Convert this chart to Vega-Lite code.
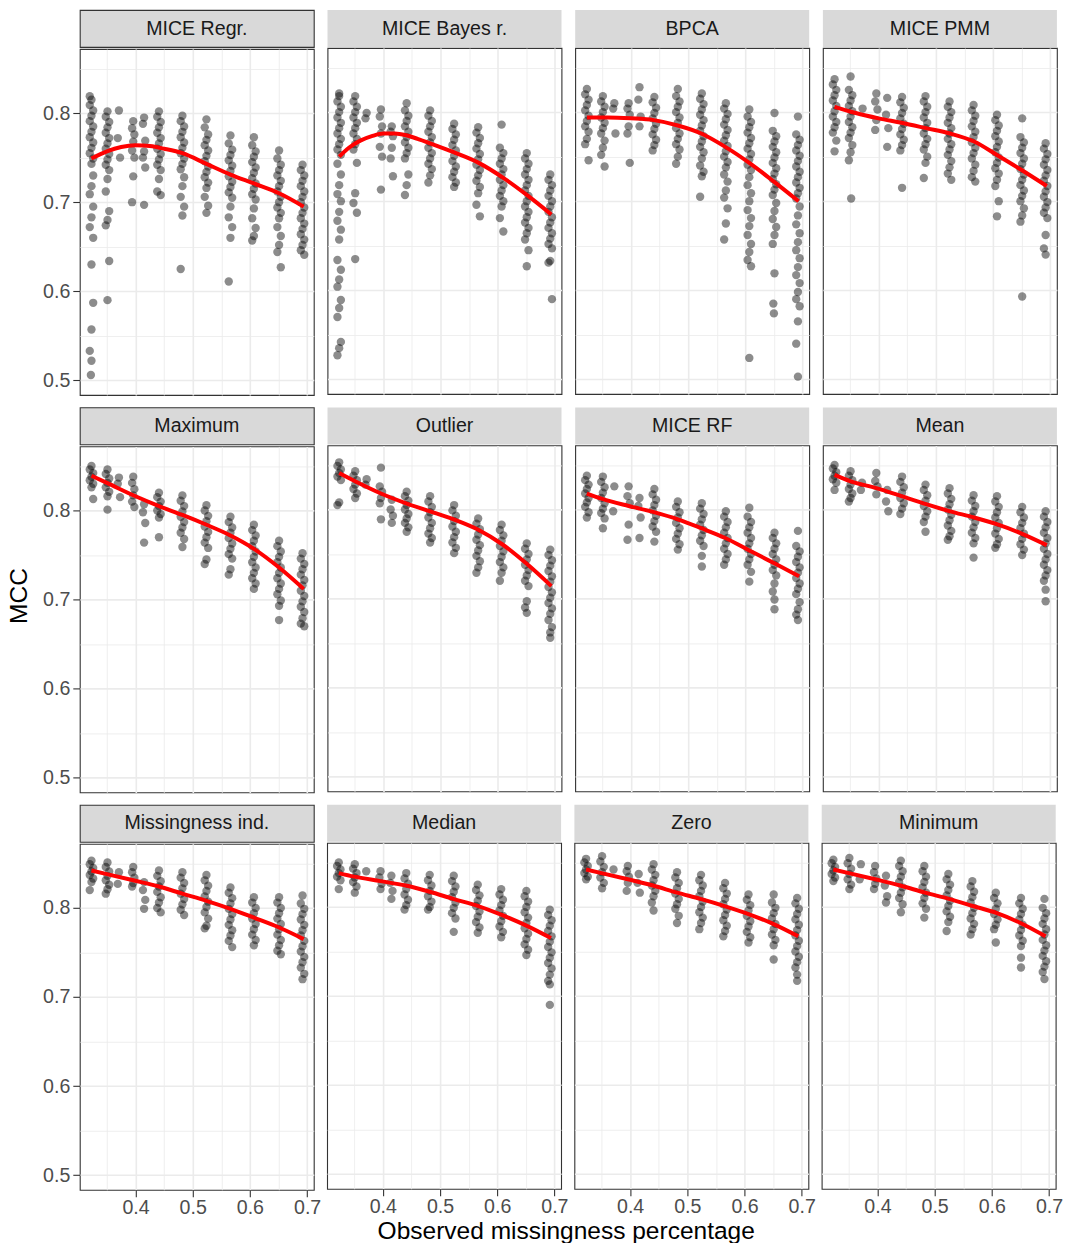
{
"$schema":"https://vega.github.io/schema/vega-lite/v6.json",
"padding":{"left":7,"top":9,"right":2,"bottom":2},
"config":{"font":"Liberation Sans","view":{"stroke":"#333333","strokeWidth":1.1},
"axis":{"domain":false,"gridColor":"#EBEBEB","labelFont":"Liberation Sans","labelFontSize":19.6,"labelColor":"#4D4D4D","tickColor":"#333333","tickSize":7,"tickWidth":1.1,"labelPadding":3,"titleFont":"Liberation Sans","titleFontSize":24.5,"titleFontWeight":"normal","titleColor":"#000000","minExtent":0}},
"datasets":{
"p1":[{"x":0.323,"y":0.815},{"x":0.32,"y":0.809},{"x":0.326,"y":0.803},{"x":0.323,"y":0.797},{"x":0.32,"y":0.791},{"x":0.326,"y":0.785},{"x":0.323,"y":0.779},{"x":0.32,"y":0.773},{"x":0.326,"y":0.767},{"x":0.323,"y":0.761},{"x":0.32,"y":0.755},{"x":0.326,"y":0.749},{"x":0.323,"y":0.743},{"x":0.32,"y":0.819},{"x":0.326,"y":0.73},{"x":0.323,"y":0.718},{"x":0.32,"y":0.709},{"x":0.326,"y":0.695},{"x":0.323,"y":0.683},{"x":0.32,"y":0.672},{"x":0.326,"y":0.66},{"x":0.323,"y":0.63},{"x":0.326,"y":0.587},{"x":0.323,"y":0.557},{"x":0.32,"y":0.533},{"x":0.323,"y":0.522},{"x":0.322,"y":0.506},
{"x":0.351,"y":0.802},{"x":0.348,"y":0.796},{"x":0.354,"y":0.79},{"x":0.351,"y":0.784},{"x":0.348,"y":0.778},{"x":0.354,"y":0.772},{"x":0.351,"y":0.766},{"x":0.348,"y":0.76},{"x":0.354,"y":0.754},{"x":0.351,"y":0.748},{"x":0.348,"y":0.742},{"x":0.354,"y":0.736},{"x":0.351,"y":0.726},{"x":0.348,"y":0.712},{"x":0.354,"y":0.69},{"x":0.351,"y":0.68},{"x":0.348,"y":0.674},{"x":0.354,"y":0.634},{"x":0.351,"y":0.59},
{"x":0.371,"y":0.803},{"x":0.369,"y":0.772},{"x":0.373,"y":0.75},
{"x":0.396,"y":0.791},{"x":0.394,"y":0.783},{"x":0.398,"y":0.776},{"x":0.396,"y":0.768},{"x":0.394,"y":0.758},{"x":0.398,"y":0.75},{"x":0.396,"y":0.729},{"x":0.394,"y":0.7},
{"x":0.415,"y":0.795},{"x":0.413,"y":0.788},{"x":0.417,"y":0.769},{"x":0.415,"y":0.757},{"x":0.413,"y":0.75},{"x":0.417,"y":0.739},{"x":0.415,"y":0.697},
{"x":0.441,"y":0.802},{"x":0.438,"y":0.796},{"x":0.444,"y":0.79},{"x":0.441,"y":0.784},{"x":0.438,"y":0.778},{"x":0.444,"y":0.772},{"x":0.441,"y":0.766},{"x":0.438,"y":0.76},{"x":0.444,"y":0.754},{"x":0.441,"y":0.748},{"x":0.438,"y":0.742},{"x":0.444,"y":0.736},{"x":0.441,"y":0.726},{"x":0.438,"y":0.712},{"x":0.444,"y":0.708},
{"x":0.482,"y":0.797},{"x":0.479,"y":0.791},{"x":0.485,"y":0.785},{"x":0.482,"y":0.779},{"x":0.479,"y":0.773},{"x":0.485,"y":0.767},{"x":0.482,"y":0.761},{"x":0.479,"y":0.755},{"x":0.485,"y":0.749},{"x":0.482,"y":0.743},{"x":0.479,"y":0.737},{"x":0.485,"y":0.728},{"x":0.482,"y":0.718},{"x":0.479,"y":0.706},{"x":0.485,"y":0.695},{"x":0.482,"y":0.685},{"x":0.479,"y":0.625},
{"x":0.524,"y":0.793},{"x":0.521,"y":0.784},{"x":0.527,"y":0.776},{"x":0.524,"y":0.77},{"x":0.521,"y":0.764},{"x":0.527,"y":0.758},{"x":0.524,"y":0.752},{"x":0.521,"y":0.746},{"x":0.527,"y":0.74},{"x":0.524,"y":0.734},{"x":0.521,"y":0.728},{"x":0.527,"y":0.722},{"x":0.524,"y":0.716},{"x":0.521,"y":0.706},{"x":0.527,"y":0.696},{"x":0.524,"y":0.688},
{"x":0.566,"y":0.775},{"x":0.563,"y":0.766},{"x":0.569,"y":0.759},{"x":0.566,"y":0.753},{"x":0.563,"y":0.747},{"x":0.569,"y":0.741},{"x":0.566,"y":0.735},{"x":0.563,"y":0.729},{"x":0.569,"y":0.723},{"x":0.566,"y":0.717},{"x":0.563,"y":0.711},{"x":0.569,"y":0.705},{"x":0.566,"y":0.695},{"x":0.563,"y":0.683},{"x":0.569,"y":0.672},{"x":0.566,"y":0.66},{"x":0.563,"y":0.611},
{"x":0.607,"y":0.773},{"x":0.604,"y":0.764},{"x":0.61,"y":0.757},{"x":0.607,"y":0.751},{"x":0.604,"y":0.745},{"x":0.61,"y":0.739},{"x":0.607,"y":0.733},{"x":0.604,"y":0.727},{"x":0.61,"y":0.721},{"x":0.607,"y":0.715},{"x":0.604,"y":0.709},{"x":0.61,"y":0.703},{"x":0.607,"y":0.693},{"x":0.604,"y":0.682},{"x":0.61,"y":0.671},{"x":0.607,"y":0.662},{"x":0.604,"y":0.657},
{"x":0.651,"y":0.758},{"x":0.648,"y":0.749},{"x":0.654,"y":0.742},{"x":0.651,"y":0.736},{"x":0.648,"y":0.73},{"x":0.654,"y":0.724},{"x":0.651,"y":0.718},{"x":0.648,"y":0.712},{"x":0.654,"y":0.706},{"x":0.651,"y":0.7},{"x":0.648,"y":0.694},{"x":0.654,"y":0.688},{"x":0.651,"y":0.682},{"x":0.648,"y":0.672},{"x":0.654,"y":0.662},{"x":0.651,"y":0.652},{"x":0.648,"y":0.644},{"x":0.654,"y":0.627},
{"x":0.692,"y":0.742},{"x":0.689,"y":0.736},{"x":0.695,"y":0.73},{"x":0.692,"y":0.724},{"x":0.689,"y":0.718},{"x":0.695,"y":0.712},{"x":0.692,"y":0.706},{"x":0.689,"y":0.7},{"x":0.695,"y":0.694},{"x":0.692,"y":0.688},{"x":0.689,"y":0.682},{"x":0.695,"y":0.676},{"x":0.692,"y":0.67},{"x":0.689,"y":0.664},{"x":0.695,"y":0.658},{"x":0.692,"y":0.652},{"x":0.689,"y":0.646},{"x":0.695,"y":0.641}],
"p2":[{"x":0.323,"y":0.818},{"x":0.32,"y":0.812},{"x":0.326,"y":0.806},{"x":0.323,"y":0.8},{"x":0.32,"y":0.794},{"x":0.326,"y":0.788},{"x":0.323,"y":0.782},{"x":0.32,"y":0.776},{"x":0.326,"y":0.77},{"x":0.323,"y":0.764},{"x":0.32,"y":0.758},{"x":0.326,"y":0.752},{"x":0.323,"y":0.821},{"x":0.32,"y":0.742},{"x":0.326,"y":0.73},{"x":0.323,"y":0.718},{"x":0.32,"y":0.708},{"x":0.326,"y":0.7},{"x":0.323,"y":0.688},{"x":0.32,"y":0.678},{"x":0.326,"y":0.668},{"x":0.323,"y":0.657},{"x":0.32,"y":0.634},{"x":0.326,"y":0.623},{"x":0.323,"y":0.612},{"x":0.32,"y":0.604},{"x":0.326,"y":0.589},{"x":0.323,"y":0.58},{"x":0.32,"y":0.57},{"x":0.326,"y":0.542},{"x":0.323,"y":0.535},{"x":0.32,"y":0.527},
{"x":0.351,"y":0.818},{"x":0.348,"y":0.812},{"x":0.354,"y":0.806},{"x":0.351,"y":0.8},{"x":0.348,"y":0.794},{"x":0.354,"y":0.788},{"x":0.351,"y":0.782},{"x":0.348,"y":0.776},{"x":0.354,"y":0.77},{"x":0.351,"y":0.764},{"x":0.348,"y":0.758},{"x":0.354,"y":0.743},{"x":0.351,"y":0.709},{"x":0.348,"y":0.698},{"x":0.354,"y":0.687},{"x":0.351,"y":0.635},
{"x":0.371,"y":0.799},{"x":0.369,"y":0.793},
{"x":0.396,"y":0.803},{"x":0.394,"y":0.795},{"x":0.398,"y":0.784},{"x":0.396,"y":0.776},{"x":0.394,"y":0.761},{"x":0.398,"y":0.75},{"x":0.396,"y":0.713},
{"x":0.415,"y":0.784},{"x":0.413,"y":0.778},{"x":0.417,"y":0.773},{"x":0.415,"y":0.76},{"x":0.413,"y":0.748},{"x":0.417,"y":0.728},
{"x":0.441,"y":0.81},{"x":0.438,"y":0.802},{"x":0.444,"y":0.796},{"x":0.441,"y":0.79},{"x":0.438,"y":0.784},{"x":0.444,"y":0.778},{"x":0.441,"y":0.772},{"x":0.438,"y":0.766},{"x":0.444,"y":0.76},{"x":0.441,"y":0.754},{"x":0.438,"y":0.748},{"x":0.444,"y":0.73},{"x":0.441,"y":0.718},{"x":0.438,"y":0.707},
{"x":0.482,"y":0.802},{"x":0.479,"y":0.796},{"x":0.485,"y":0.79},{"x":0.482,"y":0.784},{"x":0.479,"y":0.778},{"x":0.485,"y":0.772},{"x":0.482,"y":0.766},{"x":0.479,"y":0.76},{"x":0.485,"y":0.754},{"x":0.482,"y":0.748},{"x":0.479,"y":0.742},{"x":0.485,"y":0.736},{"x":0.482,"y":0.729},{"x":0.479,"y":0.721},
{"x":0.524,"y":0.787},{"x":0.521,"y":0.781},{"x":0.527,"y":0.775},{"x":0.524,"y":0.769},{"x":0.521,"y":0.763},{"x":0.527,"y":0.757},{"x":0.524,"y":0.751},{"x":0.521,"y":0.745},{"x":0.527,"y":0.739},{"x":0.524,"y":0.733},{"x":0.521,"y":0.727},{"x":0.527,"y":0.721},{"x":0.524,"y":0.716},
{"x":0.566,"y":0.783},{"x":0.563,"y":0.777},{"x":0.569,"y":0.771},{"x":0.566,"y":0.765},{"x":0.563,"y":0.759},{"x":0.569,"y":0.753},{"x":0.566,"y":0.747},{"x":0.563,"y":0.741},{"x":0.569,"y":0.735},{"x":0.566,"y":0.729},{"x":0.563,"y":0.723},{"x":0.569,"y":0.716},{"x":0.566,"y":0.709},{"x":0.563,"y":0.696},{"x":0.569,"y":0.683},
{"x":0.607,"y":0.786},{"x":0.604,"y":0.76},{"x":0.61,"y":0.754},{"x":0.607,"y":0.748},{"x":0.604,"y":0.742},{"x":0.61,"y":0.736},{"x":0.607,"y":0.73},{"x":0.604,"y":0.724},{"x":0.61,"y":0.718},{"x":0.607,"y":0.712},{"x":0.604,"y":0.706},{"x":0.61,"y":0.7},{"x":0.607,"y":0.694},{"x":0.604,"y":0.681},{"x":0.61,"y":0.666},
{"x":0.651,"y":0.754},{"x":0.648,"y":0.748},{"x":0.654,"y":0.742},{"x":0.651,"y":0.736},{"x":0.648,"y":0.73},{"x":0.654,"y":0.724},{"x":0.651,"y":0.718},{"x":0.648,"y":0.712},{"x":0.654,"y":0.706},{"x":0.651,"y":0.7},{"x":0.648,"y":0.694},{"x":0.654,"y":0.688},{"x":0.651,"y":0.682},{"x":0.648,"y":0.676},{"x":0.654,"y":0.67},{"x":0.651,"y":0.664},{"x":0.648,"y":0.657},{"x":0.654,"y":0.645},{"x":0.651,"y":0.627},
{"x":0.692,"y":0.73},{"x":0.689,"y":0.724},{"x":0.695,"y":0.718},{"x":0.692,"y":0.712},{"x":0.689,"y":0.706},{"x":0.695,"y":0.7},{"x":0.692,"y":0.694},{"x":0.689,"y":0.688},{"x":0.695,"y":0.682},{"x":0.692,"y":0.676},{"x":0.689,"y":0.67},{"x":0.695,"y":0.664},{"x":0.692,"y":0.658},{"x":0.689,"y":0.652},{"x":0.695,"y":0.647},{"x":0.692,"y":0.633},{"x":0.689,"y":0.631},{"x":0.695,"y":0.59}],
"p3":[{"x":0.323,"y":0.826},{"x":0.32,"y":0.82},{"x":0.326,"y":0.814},{"x":0.323,"y":0.808},{"x":0.32,"y":0.802},{"x":0.326,"y":0.796},{"x":0.323,"y":0.79},{"x":0.32,"y":0.784},{"x":0.326,"y":0.778},{"x":0.323,"y":0.77},{"x":0.32,"y":0.764},{"x":0.326,"y":0.746},
{"x":0.351,"y":0.818},{"x":0.348,"y":0.812},{"x":0.354,"y":0.806},{"x":0.351,"y":0.8},{"x":0.348,"y":0.794},{"x":0.354,"y":0.788},{"x":0.351,"y":0.782},{"x":0.348,"y":0.776},{"x":0.354,"y":0.768},{"x":0.351,"y":0.76},{"x":0.348,"y":0.752},{"x":0.354,"y":0.739},
{"x":0.371,"y":0.81},{"x":0.369,"y":0.804},{"x":0.373,"y":0.776},
{"x":0.396,"y":0.81},{"x":0.394,"y":0.804},{"x":0.398,"y":0.797},{"x":0.396,"y":0.784},{"x":0.394,"y":0.776},{"x":0.398,"y":0.743},
{"x":0.415,"y":0.828},{"x":0.413,"y":0.814},{"x":0.417,"y":0.795},{"x":0.415,"y":0.784},
{"x":0.441,"y":0.817},{"x":0.438,"y":0.811},{"x":0.444,"y":0.805},{"x":0.441,"y":0.799},{"x":0.438,"y":0.793},{"x":0.444,"y":0.787},{"x":0.441,"y":0.781},{"x":0.438,"y":0.775},{"x":0.444,"y":0.769},{"x":0.441,"y":0.763},{"x":0.438,"y":0.757},
{"x":0.482,"y":0.826},{"x":0.479,"y":0.818},{"x":0.485,"y":0.812},{"x":0.482,"y":0.806},{"x":0.479,"y":0.8},{"x":0.485,"y":0.794},{"x":0.482,"y":0.788},{"x":0.479,"y":0.782},{"x":0.485,"y":0.776},{"x":0.482,"y":0.77},{"x":0.479,"y":0.764},{"x":0.485,"y":0.758},{"x":0.482,"y":0.75},{"x":0.479,"y":0.742},
{"x":0.524,"y":0.821},{"x":0.521,"y":0.815},{"x":0.527,"y":0.809},{"x":0.524,"y":0.803},{"x":0.521,"y":0.797},{"x":0.527,"y":0.791},{"x":0.524,"y":0.785},{"x":0.521,"y":0.779},{"x":0.527,"y":0.773},{"x":0.524,"y":0.767},{"x":0.521,"y":0.761},{"x":0.527,"y":0.755},{"x":0.524,"y":0.748},{"x":0.521,"y":0.74},{"x":0.527,"y":0.733},{"x":0.524,"y":0.728},{"x":0.521,"y":0.705},
{"x":0.566,"y":0.81},{"x":0.563,"y":0.804},{"x":0.569,"y":0.798},{"x":0.566,"y":0.792},{"x":0.563,"y":0.786},{"x":0.569,"y":0.78},{"x":0.566,"y":0.774},{"x":0.563,"y":0.768},{"x":0.569,"y":0.762},{"x":0.566,"y":0.756},{"x":0.563,"y":0.75},{"x":0.569,"y":0.744},{"x":0.566,"y":0.738},{"x":0.563,"y":0.73},{"x":0.569,"y":0.722},{"x":0.566,"y":0.712},{"x":0.563,"y":0.704},{"x":0.569,"y":0.692},{"x":0.566,"y":0.675},{"x":0.563,"y":0.657},
{"x":0.607,"y":0.803},{"x":0.604,"y":0.795},{"x":0.61,"y":0.789},{"x":0.607,"y":0.783},{"x":0.604,"y":0.777},{"x":0.61,"y":0.771},{"x":0.607,"y":0.765},{"x":0.604,"y":0.759},{"x":0.61,"y":0.753},{"x":0.607,"y":0.747},{"x":0.604,"y":0.741},{"x":0.61,"y":0.735},{"x":0.607,"y":0.727},{"x":0.604,"y":0.718},{"x":0.61,"y":0.709},{"x":0.607,"y":0.7},{"x":0.604,"y":0.69},{"x":0.61,"y":0.681},{"x":0.607,"y":0.672},{"x":0.604,"y":0.662},{"x":0.61,"y":0.652},{"x":0.607,"y":0.643},{"x":0.604,"y":0.634},{"x":0.61,"y":0.627},{"x":0.607,"y":0.524},
{"x":0.651,"y":0.799},{"x":0.648,"y":0.779},{"x":0.654,"y":0.773},{"x":0.651,"y":0.767},{"x":0.648,"y":0.761},{"x":0.654,"y":0.755},{"x":0.651,"y":0.749},{"x":0.648,"y":0.743},{"x":0.654,"y":0.737},{"x":0.651,"y":0.731},{"x":0.648,"y":0.725},{"x":0.654,"y":0.719},{"x":0.651,"y":0.713},{"x":0.648,"y":0.707},{"x":0.654,"y":0.698},{"x":0.651,"y":0.689},{"x":0.648,"y":0.68},{"x":0.654,"y":0.671},{"x":0.651,"y":0.662},{"x":0.648,"y":0.652},{"x":0.651,"y":0.619},{"x":0.649,"y":0.585},{"x":0.65,"y":0.574},
{"x":0.692,"y":0.795},{"x":0.689,"y":0.775},{"x":0.695,"y":0.769},{"x":0.692,"y":0.763},{"x":0.689,"y":0.757},{"x":0.695,"y":0.751},{"x":0.692,"y":0.745},{"x":0.689,"y":0.739},{"x":0.695,"y":0.733},{"x":0.692,"y":0.727},{"x":0.689,"y":0.721},{"x":0.695,"y":0.715},{"x":0.692,"y":0.709},{"x":0.689,"y":0.703},{"x":0.695,"y":0.694},{"x":0.692,"y":0.684},{"x":0.689,"y":0.674},{"x":0.695,"y":0.664},{"x":0.692,"y":0.654},{"x":0.689,"y":0.645},{"x":0.695,"y":0.636},{"x":0.692,"y":0.626},{"x":0.689,"y":0.617},{"x":0.695,"y":0.608},{"x":0.692,"y":0.598},{"x":0.689,"y":0.59},{"x":0.695,"y":0.582},{"x":0.692,"y":0.565},{"x":0.689,"y":0.54},{"x":0.692,"y":0.503}],
"p4":[{"x":0.323,"y":0.837},{"x":0.32,"y":0.831},{"x":0.326,"y":0.825},{"x":0.323,"y":0.819},{"x":0.32,"y":0.813},{"x":0.326,"y":0.807},{"x":0.323,"y":0.801},{"x":0.32,"y":0.795},{"x":0.326,"y":0.789},{"x":0.323,"y":0.783},{"x":0.32,"y":0.777},{"x":0.326,"y":0.768},{"x":0.323,"y":0.756},
{"x":0.351,"y":0.84},{"x":0.348,"y":0.825},{"x":0.354,"y":0.819},{"x":0.351,"y":0.813},{"x":0.348,"y":0.807},{"x":0.354,"y":0.801},{"x":0.351,"y":0.795},{"x":0.348,"y":0.789},{"x":0.354,"y":0.783},{"x":0.351,"y":0.777},{"x":0.348,"y":0.771},{"x":0.354,"y":0.763},{"x":0.351,"y":0.755},{"x":0.348,"y":0.746},{"x":0.352,"y":0.703},
{"x":0.372,"y":0.804},
{"x":0.396,"y":0.821},{"x":0.394,"y":0.812},{"x":0.398,"y":0.803},{"x":0.396,"y":0.791},{"x":0.394,"y":0.78},
{"x":0.415,"y":0.816},{"x":0.413,"y":0.797},{"x":0.417,"y":0.782},{"x":0.415,"y":0.761},
{"x":0.441,"y":0.817},{"x":0.438,"y":0.811},{"x":0.444,"y":0.805},{"x":0.441,"y":0.799},{"x":0.438,"y":0.793},{"x":0.444,"y":0.787},{"x":0.441,"y":0.781},{"x":0.438,"y":0.775},{"x":0.444,"y":0.769},{"x":0.441,"y":0.763},{"x":0.438,"y":0.757},{"x":0.441,"y":0.715},
{"x":0.482,"y":0.818},{"x":0.479,"y":0.812},{"x":0.485,"y":0.806},{"x":0.482,"y":0.8},{"x":0.479,"y":0.794},{"x":0.485,"y":0.788},{"x":0.482,"y":0.782},{"x":0.479,"y":0.776},{"x":0.485,"y":0.77},{"x":0.482,"y":0.764},{"x":0.479,"y":0.758},{"x":0.485,"y":0.75},{"x":0.482,"y":0.743},{"x":0.479,"y":0.726},
{"x":0.524,"y":0.812},{"x":0.521,"y":0.806},{"x":0.527,"y":0.8},{"x":0.524,"y":0.794},{"x":0.521,"y":0.788},{"x":0.527,"y":0.782},{"x":0.524,"y":0.776},{"x":0.521,"y":0.77},{"x":0.527,"y":0.764},{"x":0.524,"y":0.758},{"x":0.521,"y":0.752},{"x":0.527,"y":0.745},{"x":0.524,"y":0.738},{"x":0.521,"y":0.731},{"x":0.527,"y":0.724},
{"x":0.566,"y":0.808},{"x":0.563,"y":0.802},{"x":0.569,"y":0.796},{"x":0.566,"y":0.79},{"x":0.563,"y":0.784},{"x":0.569,"y":0.778},{"x":0.566,"y":0.772},{"x":0.563,"y":0.766},{"x":0.569,"y":0.76},{"x":0.566,"y":0.754},{"x":0.563,"y":0.748},{"x":0.569,"y":0.741},{"x":0.566,"y":0.734},{"x":0.563,"y":0.727},{"x":0.569,"y":0.722},
{"x":0.607,"y":0.797},{"x":0.604,"y":0.791},{"x":0.61,"y":0.785},{"x":0.607,"y":0.779},{"x":0.604,"y":0.773},{"x":0.61,"y":0.767},{"x":0.607,"y":0.761},{"x":0.604,"y":0.755},{"x":0.61,"y":0.749},{"x":0.607,"y":0.743},{"x":0.604,"y":0.737},{"x":0.61,"y":0.731},{"x":0.607,"y":0.724},{"x":0.604,"y":0.717},{"x":0.61,"y":0.7},{"x":0.607,"y":0.683},
{"x":0.651,"y":0.793},{"x":0.648,"y":0.772},{"x":0.654,"y":0.766},{"x":0.651,"y":0.76},{"x":0.648,"y":0.754},{"x":0.654,"y":0.748},{"x":0.651,"y":0.742},{"x":0.648,"y":0.736},{"x":0.654,"y":0.73},{"x":0.651,"y":0.724},{"x":0.648,"y":0.718},{"x":0.654,"y":0.712},{"x":0.651,"y":0.706},{"x":0.648,"y":0.7},{"x":0.654,"y":0.692},{"x":0.651,"y":0.684},{"x":0.648,"y":0.677},{"x":0.651,"y":0.593},
{"x":0.692,"y":0.765},{"x":0.689,"y":0.759},{"x":0.695,"y":0.753},{"x":0.692,"y":0.747},{"x":0.689,"y":0.741},{"x":0.695,"y":0.735},{"x":0.692,"y":0.729},{"x":0.689,"y":0.723},{"x":0.695,"y":0.717},{"x":0.692,"y":0.711},{"x":0.689,"y":0.705},{"x":0.695,"y":0.699},{"x":0.692,"y":0.693},{"x":0.689,"y":0.687},{"x":0.695,"y":0.681},{"x":0.692,"y":0.662},{"x":0.689,"y":0.647},{"x":0.692,"y":0.64}],
"p5":[{"x":0.323,"y":0.85},{"x":0.32,"y":0.846},{"x":0.326,"y":0.842},{"x":0.323,"y":0.838},{"x":0.32,"y":0.834},{"x":0.326,"y":0.83},{"x":0.323,"y":0.826},{"x":0.326,"y":0.813},
{"x":0.351,"y":0.846},{"x":0.348,"y":0.841},{"x":0.354,"y":0.836},{"x":0.351,"y":0.831},{"x":0.348,"y":0.826},{"x":0.354,"y":0.821},{"x":0.351,"y":0.816},{"x":0.351,"y":0.801},
{"x":0.371,"y":0.837},{"x":0.369,"y":0.83},{"x":0.373,"y":0.815},
{"x":0.396,"y":0.838},{"x":0.394,"y":0.831},{"x":0.398,"y":0.824},{"x":0.396,"y":0.817},{"x":0.394,"y":0.81},{"x":0.398,"y":0.804},
{"x":0.415,"y":0.807},{"x":0.413,"y":0.798},{"x":0.417,"y":0.786},{"x":0.415,"y":0.764},
{"x":0.441,"y":0.82},{"x":0.438,"y":0.815},{"x":0.444,"y":0.81},{"x":0.441,"y":0.805},{"x":0.438,"y":0.8},{"x":0.444,"y":0.796},{"x":0.441,"y":0.792},{"x":0.441,"y":0.77},
{"x":0.482,"y":0.817},{"x":0.479,"y":0.811},{"x":0.485,"y":0.805},{"x":0.482,"y":0.799},{"x":0.479,"y":0.793},{"x":0.485,"y":0.787},{"x":0.482,"y":0.781},{"x":0.479,"y":0.775},{"x":0.485,"y":0.768},{"x":0.482,"y":0.759},
{"x":0.524,"y":0.806},{"x":0.521,"y":0.8},{"x":0.527,"y":0.794},{"x":0.524,"y":0.788},{"x":0.521,"y":0.782},{"x":0.527,"y":0.776},{"x":0.524,"y":0.77},{"x":0.521,"y":0.764},{"x":0.527,"y":0.758},{"x":0.524,"y":0.745},{"x":0.521,"y":0.74},
{"x":0.566,"y":0.793},{"x":0.563,"y":0.787},{"x":0.569,"y":0.781},{"x":0.566,"y":0.775},{"x":0.563,"y":0.769},{"x":0.569,"y":0.763},{"x":0.566,"y":0.757},{"x":0.563,"y":0.751},{"x":0.569,"y":0.746},{"x":0.566,"y":0.734},{"x":0.563,"y":0.728},
{"x":0.607,"y":0.784},{"x":0.604,"y":0.778},{"x":0.61,"y":0.772},{"x":0.607,"y":0.766},{"x":0.604,"y":0.76},{"x":0.61,"y":0.754},{"x":0.607,"y":0.748},{"x":0.604,"y":0.742},{"x":0.61,"y":0.736},{"x":0.607,"y":0.73},{"x":0.604,"y":0.724},{"x":0.61,"y":0.718},{"x":0.607,"y":0.712},
{"x":0.651,"y":0.766},{"x":0.648,"y":0.76},{"x":0.654,"y":0.754},{"x":0.651,"y":0.748},{"x":0.648,"y":0.742},{"x":0.654,"y":0.736},{"x":0.651,"y":0.73},{"x":0.648,"y":0.724},{"x":0.654,"y":0.718},{"x":0.651,"y":0.712},{"x":0.648,"y":0.706},{"x":0.654,"y":0.699},{"x":0.651,"y":0.693},{"x":0.651,"y":0.677},
{"x":0.692,"y":0.752},{"x":0.689,"y":0.746},{"x":0.695,"y":0.74},{"x":0.692,"y":0.734},{"x":0.689,"y":0.728},{"x":0.695,"y":0.722},{"x":0.692,"y":0.716},{"x":0.689,"y":0.71},{"x":0.695,"y":0.704},{"x":0.692,"y":0.698},{"x":0.689,"y":0.692},{"x":0.695,"y":0.686},{"x":0.692,"y":0.679},{"x":0.689,"y":0.673},{"x":0.695,"y":0.67}],
"p6":[{"x":0.323,"y":0.853},{"x":0.32,"y":0.849},{"x":0.326,"y":0.845},{"x":0.323,"y":0.841},{"x":0.32,"y":0.837},{"x":0.326,"y":0.833},{"x":0.323,"y":0.808},{"x":0.32,"y":0.805},
{"x":0.351,"y":0.843},{"x":0.348,"y":0.838},{"x":0.354,"y":0.833},{"x":0.351,"y":0.828},{"x":0.348,"y":0.823},{"x":0.354,"y":0.818},{"x":0.351,"y":0.813},
{"x":0.371,"y":0.834},{"x":0.369,"y":0.828},
{"x":0.396,"y":0.847},{"x":0.394,"y":0.826},{"x":0.398,"y":0.82},{"x":0.396,"y":0.813},{"x":0.394,"y":0.807},{"x":0.396,"y":0.789},
{"x":0.415,"y":0.811},{"x":0.413,"y":0.8},{"x":0.417,"y":0.793},{"x":0.415,"y":0.785},
{"x":0.441,"y":0.82},{"x":0.438,"y":0.815},{"x":0.444,"y":0.81},{"x":0.441,"y":0.805},{"x":0.438,"y":0.8},{"x":0.444,"y":0.795},{"x":0.441,"y":0.79},{"x":0.438,"y":0.785},{"x":0.444,"y":0.78},{"x":0.441,"y":0.775},
{"x":0.482,"y":0.815},{"x":0.479,"y":0.809},{"x":0.485,"y":0.803},{"x":0.482,"y":0.797},{"x":0.479,"y":0.791},{"x":0.485,"y":0.785},{"x":0.482,"y":0.779},{"x":0.479,"y":0.773},{"x":0.485,"y":0.768},{"x":0.482,"y":0.763},
{"x":0.524,"y":0.805},{"x":0.521,"y":0.799},{"x":0.527,"y":0.793},{"x":0.524,"y":0.787},{"x":0.521,"y":0.781},{"x":0.527,"y":0.775},{"x":0.524,"y":0.769},{"x":0.521,"y":0.763},{"x":0.527,"y":0.757},{"x":0.524,"y":0.751},
{"x":0.566,"y":0.79},{"x":0.563,"y":0.784},{"x":0.569,"y":0.778},{"x":0.566,"y":0.772},{"x":0.563,"y":0.766},{"x":0.569,"y":0.76},{"x":0.566,"y":0.754},{"x":0.563,"y":0.748},{"x":0.569,"y":0.742},{"x":0.566,"y":0.735},{"x":0.563,"y":0.729},
{"x":0.607,"y":0.783},{"x":0.604,"y":0.777},{"x":0.61,"y":0.771},{"x":0.607,"y":0.765},{"x":0.604,"y":0.759},{"x":0.61,"y":0.753},{"x":0.607,"y":0.747},{"x":0.604,"y":0.741},{"x":0.61,"y":0.735},{"x":0.607,"y":0.729},{"x":0.604,"y":0.72},
{"x":0.651,"y":0.762},{"x":0.648,"y":0.756},{"x":0.654,"y":0.75},{"x":0.651,"y":0.744},{"x":0.648,"y":0.738},{"x":0.654,"y":0.732},{"x":0.651,"y":0.726},{"x":0.648,"y":0.72},{"x":0.654,"y":0.714},{"x":0.651,"y":0.697},{"x":0.648,"y":0.69},{"x":0.651,"y":0.684},
{"x":0.692,"y":0.755},{"x":0.689,"y":0.749},{"x":0.695,"y":0.743},{"x":0.692,"y":0.737},{"x":0.689,"y":0.731},{"x":0.695,"y":0.725},{"x":0.692,"y":0.719},{"x":0.689,"y":0.713},{"x":0.695,"y":0.707},{"x":0.692,"y":0.701},{"x":0.689,"y":0.695},{"x":0.695,"y":0.689},{"x":0.692,"y":0.683},{"x":0.689,"y":0.676},{"x":0.695,"y":0.668},{"x":0.692,"y":0.662},{"x":0.692,"y":0.656}],
"p7":[{"x":0.323,"y":0.838},{"x":0.32,"y":0.833},{"x":0.326,"y":0.828},{"x":0.323,"y":0.823},{"x":0.32,"y":0.818},{"x":0.326,"y":0.813},{"x":0.323,"y":0.808},{"x":0.32,"y":0.803},{"x":0.326,"y":0.797},{"x":0.323,"y":0.791},
{"x":0.351,"y":0.837},{"x":0.348,"y":0.831},{"x":0.354,"y":0.825},{"x":0.351,"y":0.819},{"x":0.348,"y":0.813},{"x":0.354,"y":0.807},{"x":0.351,"y":0.801},{"x":0.348,"y":0.796},{"x":0.354,"y":0.79},{"x":0.351,"y":0.779},
{"x":0.371,"y":0.826},{"x":0.369,"y":0.798},
{"x":0.396,"y":0.826},{"x":0.394,"y":0.815},{"x":0.398,"y":0.807},{"x":0.396,"y":0.783},{"x":0.394,"y":0.766},
{"x":0.415,"y":0.813},{"x":0.413,"y":0.804},{"x":0.417,"y":0.791},{"x":0.415,"y":0.768},
{"x":0.441,"y":0.823},{"x":0.438,"y":0.817},{"x":0.444,"y":0.811},{"x":0.441,"y":0.805},{"x":0.438,"y":0.799},{"x":0.444,"y":0.793},{"x":0.441,"y":0.787},{"x":0.438,"y":0.781},{"x":0.444,"y":0.775},{"x":0.441,"y":0.764},
{"x":0.482,"y":0.809},{"x":0.479,"y":0.803},{"x":0.485,"y":0.797},{"x":0.482,"y":0.791},{"x":0.479,"y":0.785},{"x":0.485,"y":0.779},{"x":0.482,"y":0.773},{"x":0.479,"y":0.767},{"x":0.485,"y":0.761},{"x":0.482,"y":0.755},
{"x":0.524,"y":0.807},{"x":0.521,"y":0.801},{"x":0.527,"y":0.795},{"x":0.524,"y":0.789},{"x":0.521,"y":0.783},{"x":0.527,"y":0.777},{"x":0.524,"y":0.771},{"x":0.521,"y":0.765},{"x":0.527,"y":0.759},{"x":0.524,"y":0.748},{"x":0.524,"y":0.736},
{"x":0.566,"y":0.798},{"x":0.563,"y":0.792},{"x":0.569,"y":0.786},{"x":0.566,"y":0.78},{"x":0.563,"y":0.774},{"x":0.569,"y":0.768},{"x":0.566,"y":0.762},{"x":0.563,"y":0.756},{"x":0.569,"y":0.75},{"x":0.566,"y":0.744},{"x":0.563,"y":0.738},
{"x":0.607,"y":0.802},{"x":0.604,"y":0.792},{"x":0.61,"y":0.786},{"x":0.607,"y":0.78},{"x":0.604,"y":0.774},{"x":0.61,"y":0.768},{"x":0.607,"y":0.762},{"x":0.604,"y":0.756},{"x":0.61,"y":0.75},{"x":0.607,"y":0.744},{"x":0.604,"y":0.738},{"x":0.61,"y":0.73},{"x":0.607,"y":0.719},
{"x":0.651,"y":0.774},{"x":0.648,"y":0.768},{"x":0.654,"y":0.762},{"x":0.651,"y":0.756},{"x":0.648,"y":0.75},{"x":0.654,"y":0.744},{"x":0.651,"y":0.738},{"x":0.648,"y":0.732},{"x":0.654,"y":0.726},{"x":0.651,"y":0.717},{"x":0.648,"y":0.708},{"x":0.651,"y":0.699},{"x":0.651,"y":0.688},
{"x":0.692,"y":0.776},{"x":0.689,"y":0.759},{"x":0.695,"y":0.753},{"x":0.692,"y":0.747},{"x":0.689,"y":0.741},{"x":0.695,"y":0.735},{"x":0.692,"y":0.729},{"x":0.689,"y":0.723},{"x":0.695,"y":0.717},{"x":0.692,"y":0.711},{"x":0.689,"y":0.705},{"x":0.695,"y":0.696},{"x":0.692,"y":0.688},{"x":0.689,"y":0.682},{"x":0.692,"y":0.676}],
"p8":[{"x":0.323,"y":0.85},{"x":0.32,"y":0.846},{"x":0.326,"y":0.842},{"x":0.323,"y":0.838},{"x":0.32,"y":0.834},{"x":0.326,"y":0.83},{"x":0.323,"y":0.822},
{"x":0.351,"y":0.843},{"x":0.348,"y":0.838},{"x":0.354,"y":0.833},{"x":0.351,"y":0.828},{"x":0.348,"y":0.823},{"x":0.354,"y":0.818},{"x":0.351,"y":0.813},{"x":0.348,"y":0.809},
{"x":0.371,"y":0.83},{"x":0.369,"y":0.822},
{"x":0.396,"y":0.841},{"x":0.394,"y":0.832},{"x":0.398,"y":0.826},{"x":0.396,"y":0.817},
{"x":0.415,"y":0.822},{"x":0.413,"y":0.809},{"x":0.417,"y":0.798},
{"x":0.441,"y":0.837},{"x":0.438,"y":0.831},{"x":0.444,"y":0.825},{"x":0.441,"y":0.819},{"x":0.438,"y":0.813},{"x":0.444,"y":0.807},{"x":0.441,"y":0.801},{"x":0.438,"y":0.795},
{"x":0.482,"y":0.828},{"x":0.479,"y":0.822},{"x":0.485,"y":0.816},{"x":0.482,"y":0.81},{"x":0.479,"y":0.804},{"x":0.485,"y":0.798},{"x":0.482,"y":0.792},{"x":0.479,"y":0.786},{"x":0.482,"y":0.775},
{"x":0.524,"y":0.824},{"x":0.521,"y":0.818},{"x":0.527,"y":0.812},{"x":0.524,"y":0.806},{"x":0.521,"y":0.8},{"x":0.527,"y":0.794},{"x":0.524,"y":0.788},{"x":0.521,"y":0.782},{"x":0.527,"y":0.776},{"x":0.524,"y":0.77},{"x":0.521,"y":0.766},
{"x":0.566,"y":0.816},{"x":0.563,"y":0.81},{"x":0.569,"y":0.804},{"x":0.566,"y":0.798},{"x":0.563,"y":0.792},{"x":0.569,"y":0.786},{"x":0.566,"y":0.78},{"x":0.563,"y":0.774},{"x":0.569,"y":0.768},{"x":0.566,"y":0.762},{"x":0.566,"y":0.746},
{"x":0.607,"y":0.815},{"x":0.604,"y":0.809},{"x":0.61,"y":0.803},{"x":0.607,"y":0.797},{"x":0.604,"y":0.791},{"x":0.61,"y":0.785},{"x":0.607,"y":0.779},{"x":0.604,"y":0.773},{"x":0.61,"y":0.767},{"x":0.607,"y":0.761},{"x":0.604,"y":0.757},
{"x":0.651,"y":0.803},{"x":0.648,"y":0.797},{"x":0.654,"y":0.791},{"x":0.651,"y":0.785},{"x":0.648,"y":0.779},{"x":0.654,"y":0.773},{"x":0.651,"y":0.767},{"x":0.648,"y":0.761},{"x":0.654,"y":0.755},{"x":0.651,"y":0.749},
{"x":0.692,"y":0.798},{"x":0.689,"y":0.792},{"x":0.695,"y":0.786},{"x":0.692,"y":0.78},{"x":0.689,"y":0.774},{"x":0.695,"y":0.768},{"x":0.692,"y":0.762},{"x":0.689,"y":0.756},{"x":0.695,"y":0.75},{"x":0.692,"y":0.744},{"x":0.689,"y":0.738},{"x":0.695,"y":0.732},{"x":0.692,"y":0.726},{"x":0.689,"y":0.72},{"x":0.692,"y":0.71},{"x":0.692,"y":0.697}],
"p9":[{"x":0.323,"y":0.853},{"x":0.32,"y":0.849},{"x":0.326,"y":0.845},{"x":0.323,"y":0.841},{"x":0.32,"y":0.837},{"x":0.326,"y":0.833},{"x":0.323,"y":0.829},{"x":0.32,"y":0.82},
{"x":0.351,"y":0.851},{"x":0.348,"y":0.846},{"x":0.354,"y":0.841},{"x":0.351,"y":0.836},{"x":0.348,"y":0.831},{"x":0.354,"y":0.826},{"x":0.351,"y":0.821},{"x":0.348,"y":0.816},
{"x":0.371,"y":0.84},{"x":0.369,"y":0.827},
{"x":0.396,"y":0.846},{"x":0.394,"y":0.84},{"x":0.398,"y":0.834},{"x":0.396,"y":0.828},{"x":0.394,"y":0.824},
{"x":0.415,"y":0.829},{"x":0.413,"y":0.82},{"x":0.417,"y":0.809},{"x":0.415,"y":0.799},
{"x":0.441,"y":0.842},{"x":0.438,"y":0.836},{"x":0.444,"y":0.83},{"x":0.441,"y":0.824},{"x":0.438,"y":0.818},{"x":0.444,"y":0.812},{"x":0.441,"y":0.806},{"x":0.438,"y":0.8},{"x":0.444,"y":0.795},
{"x":0.482,"y":0.84},{"x":0.479,"y":0.834},{"x":0.485,"y":0.828},{"x":0.482,"y":0.822},{"x":0.479,"y":0.816},{"x":0.485,"y":0.81},{"x":0.482,"y":0.804},{"x":0.479,"y":0.798},{"x":0.485,"y":0.792},
{"x":0.524,"y":0.837},{"x":0.521,"y":0.831},{"x":0.527,"y":0.825},{"x":0.524,"y":0.819},{"x":0.521,"y":0.813},{"x":0.527,"y":0.807},{"x":0.524,"y":0.801},{"x":0.521,"y":0.795},{"x":0.527,"y":0.788},{"x":0.524,"y":0.78},{"x":0.521,"y":0.777},
{"x":0.566,"y":0.823},{"x":0.563,"y":0.817},{"x":0.569,"y":0.811},{"x":0.566,"y":0.805},{"x":0.563,"y":0.799},{"x":0.569,"y":0.793},{"x":0.566,"y":0.787},{"x":0.563,"y":0.781},{"x":0.569,"y":0.775},{"x":0.566,"y":0.769},{"x":0.563,"y":0.763},{"x":0.569,"y":0.756},
{"x":0.607,"y":0.812},{"x":0.604,"y":0.806},{"x":0.61,"y":0.8},{"x":0.607,"y":0.794},{"x":0.604,"y":0.788},{"x":0.61,"y":0.782},{"x":0.607,"y":0.776},{"x":0.604,"y":0.77},{"x":0.61,"y":0.764},{"x":0.607,"y":0.758},
{"x":0.651,"y":0.812},{"x":0.648,"y":0.806},{"x":0.654,"y":0.8},{"x":0.651,"y":0.794},{"x":0.648,"y":0.788},{"x":0.654,"y":0.782},{"x":0.651,"y":0.776},{"x":0.648,"y":0.77},{"x":0.654,"y":0.764},{"x":0.651,"y":0.758},{"x":0.648,"y":0.752},{"x":0.654,"y":0.748},
{"x":0.692,"y":0.814},{"x":0.689,"y":0.805},{"x":0.695,"y":0.799},{"x":0.692,"y":0.793},{"x":0.689,"y":0.787},{"x":0.695,"y":0.781},{"x":0.692,"y":0.775},{"x":0.689,"y":0.769},{"x":0.695,"y":0.763},{"x":0.692,"y":0.757},{"x":0.689,"y":0.751},{"x":0.695,"y":0.745},{"x":0.692,"y":0.739},{"x":0.689,"y":0.733},{"x":0.695,"y":0.726},{"x":0.692,"y":0.72}],
"p10":[{"x":0.323,"y":0.85},{"x":0.32,"y":0.846},{"x":0.326,"y":0.842},{"x":0.323,"y":0.838},{"x":0.32,"y":0.834},{"x":0.326,"y":0.83},{"x":0.323,"y":0.82},
{"x":0.351,"y":0.848},{"x":0.348,"y":0.843},{"x":0.354,"y":0.838},{"x":0.351,"y":0.833},{"x":0.348,"y":0.828},{"x":0.354,"y":0.823},{"x":0.351,"y":0.816},
{"x":0.371,"y":0.84},
{"x":0.396,"y":0.84},{"x":0.394,"y":0.833},{"x":0.398,"y":0.826},{"x":0.396,"y":0.82},
{"x":0.415,"y":0.835},{"x":0.413,"y":0.827},{"x":0.417,"y":0.818},{"x":0.415,"y":0.809},
{"x":0.441,"y":0.838},{"x":0.438,"y":0.832},{"x":0.444,"y":0.826},{"x":0.441,"y":0.82},{"x":0.438,"y":0.814},{"x":0.444,"y":0.808},{"x":0.441,"y":0.802},{"x":0.438,"y":0.797},
{"x":0.482,"y":0.836},{"x":0.479,"y":0.83},{"x":0.485,"y":0.824},{"x":0.482,"y":0.818},{"x":0.479,"y":0.812},{"x":0.485,"y":0.806},{"x":0.482,"y":0.8},{"x":0.479,"y":0.797},
{"x":0.524,"y":0.835},{"x":0.521,"y":0.829},{"x":0.527,"y":0.823},{"x":0.524,"y":0.817},{"x":0.521,"y":0.811},{"x":0.527,"y":0.805},{"x":0.524,"y":0.799},{"x":0.521,"y":0.793},{"x":0.527,"y":0.787},{"x":0.524,"y":0.772},
{"x":0.566,"y":0.825},{"x":0.563,"y":0.819},{"x":0.569,"y":0.813},{"x":0.566,"y":0.807},{"x":0.563,"y":0.801},{"x":0.569,"y":0.795},{"x":0.566,"y":0.789},{"x":0.563,"y":0.783},{"x":0.569,"y":0.777},{"x":0.566,"y":0.771},
{"x":0.607,"y":0.82},{"x":0.604,"y":0.814},{"x":0.61,"y":0.808},{"x":0.607,"y":0.802},{"x":0.604,"y":0.796},{"x":0.61,"y":0.79},{"x":0.607,"y":0.784},{"x":0.604,"y":0.778},{"x":0.61,"y":0.772},{"x":0.607,"y":0.766},
{"x":0.651,"y":0.818},{"x":0.648,"y":0.812},{"x":0.654,"y":0.806},{"x":0.651,"y":0.8},{"x":0.648,"y":0.794},{"x":0.654,"y":0.788},{"x":0.651,"y":0.782},{"x":0.648,"y":0.776},{"x":0.654,"y":0.77},{"x":0.651,"y":0.764},{"x":0.648,"y":0.758},{"x":0.654,"y":0.752},{"x":0.651,"y":0.746},
{"x":0.692,"y":0.797},{"x":0.689,"y":0.791},{"x":0.695,"y":0.785},{"x":0.692,"y":0.779},{"x":0.689,"y":0.773},{"x":0.695,"y":0.767},{"x":0.692,"y":0.761},{"x":0.689,"y":0.755},{"x":0.695,"y":0.749},{"x":0.692,"y":0.743},{"x":0.689,"y":0.737},{"x":0.695,"y":0.731},{"x":0.692,"y":0.724},{"x":0.689,"y":0.717},{"x":0.692,"y":0.713},{"x":0.692,"y":0.69}],
"p11":[{"x":0.323,"y":0.854},{"x":0.32,"y":0.85},{"x":0.326,"y":0.846},{"x":0.323,"y":0.842},{"x":0.32,"y":0.838},{"x":0.326,"y":0.834},{"x":0.323,"y":0.831},
{"x":0.351,"y":0.857},{"x":0.348,"y":0.851},{"x":0.354,"y":0.845},{"x":0.351,"y":0.839},{"x":0.348,"y":0.833},{"x":0.354,"y":0.827},{"x":0.351,"y":0.821},
{"x":0.371,"y":0.842},
{"x":0.396,"y":0.846},{"x":0.394,"y":0.84},{"x":0.398,"y":0.834},{"x":0.396,"y":0.827},{"x":0.394,"y":0.818},
{"x":0.415,"y":0.837},{"x":0.413,"y":0.827},{"x":0.417,"y":0.816},
{"x":0.441,"y":0.848},{"x":0.438,"y":0.842},{"x":0.444,"y":0.836},{"x":0.441,"y":0.83},{"x":0.438,"y":0.824},{"x":0.444,"y":0.818},{"x":0.441,"y":0.812},{"x":0.438,"y":0.805},{"x":0.441,"y":0.796},
{"x":0.482,"y":0.839},{"x":0.479,"y":0.833},{"x":0.485,"y":0.827},{"x":0.482,"y":0.821},{"x":0.479,"y":0.815},{"x":0.485,"y":0.809},{"x":0.482,"y":0.803},{"x":0.479,"y":0.798},{"x":0.485,"y":0.79},{"x":0.482,"y":0.782},
{"x":0.524,"y":0.836},{"x":0.521,"y":0.83},{"x":0.527,"y":0.824},{"x":0.524,"y":0.818},{"x":0.521,"y":0.812},{"x":0.527,"y":0.806},{"x":0.524,"y":0.8},{"x":0.521,"y":0.794},{"x":0.527,"y":0.788},{"x":0.524,"y":0.782},{"x":0.521,"y":0.775},
{"x":0.566,"y":0.827},{"x":0.563,"y":0.821},{"x":0.569,"y":0.815},{"x":0.566,"y":0.809},{"x":0.563,"y":0.803},{"x":0.569,"y":0.797},{"x":0.566,"y":0.791},{"x":0.563,"y":0.785},{"x":0.569,"y":0.779},{"x":0.566,"y":0.773},{"x":0.563,"y":0.767},
{"x":0.607,"y":0.814},{"x":0.604,"y":0.808},{"x":0.61,"y":0.802},{"x":0.607,"y":0.796},{"x":0.604,"y":0.79},{"x":0.61,"y":0.784},{"x":0.607,"y":0.778},{"x":0.604,"y":0.772},{"x":0.61,"y":0.766},{"x":0.607,"y":0.76},
{"x":0.651,"y":0.814},{"x":0.648,"y":0.805},{"x":0.654,"y":0.799},{"x":0.651,"y":0.793},{"x":0.648,"y":0.787},{"x":0.654,"y":0.781},{"x":0.651,"y":0.775},{"x":0.648,"y":0.769},{"x":0.654,"y":0.763},{"x":0.651,"y":0.757},{"x":0.651,"y":0.741},
{"x":0.692,"y":0.81},{"x":0.689,"y":0.804},{"x":0.695,"y":0.798},{"x":0.692,"y":0.792},{"x":0.689,"y":0.786},{"x":0.695,"y":0.78},{"x":0.692,"y":0.774},{"x":0.689,"y":0.768},{"x":0.695,"y":0.762},{"x":0.692,"y":0.756},{"x":0.689,"y":0.75},{"x":0.695,"y":0.744},{"x":0.692,"y":0.738},{"x":0.689,"y":0.732},{"x":0.692,"y":0.724},{"x":0.692,"y":0.717}],
"p12":[{"x":0.323,"y":0.853},{"x":0.32,"y":0.849},{"x":0.326,"y":0.845},{"x":0.323,"y":0.841},{"x":0.32,"y":0.837},{"x":0.326,"y":0.833},{"x":0.323,"y":0.829},
{"x":0.351,"y":0.855},{"x":0.348,"y":0.849},{"x":0.354,"y":0.843},{"x":0.351,"y":0.837},{"x":0.348,"y":0.831},{"x":0.354,"y":0.825},{"x":0.351,"y":0.82},
{"x":0.371,"y":0.848},{"x":0.369,"y":0.831},
{"x":0.396,"y":0.846},{"x":0.394,"y":0.839},{"x":0.398,"y":0.832},{"x":0.396,"y":0.826},{"x":0.394,"y":0.82},
{"x":0.415,"y":0.835},{"x":0.413,"y":0.824},{"x":0.417,"y":0.812},{"x":0.415,"y":0.805},
{"x":0.441,"y":0.852},{"x":0.438,"y":0.846},{"x":0.444,"y":0.84},{"x":0.441,"y":0.834},{"x":0.438,"y":0.828},{"x":0.444,"y":0.822},{"x":0.441,"y":0.816},{"x":0.438,"y":0.81},{"x":0.444,"y":0.803},{"x":0.441,"y":0.794},
{"x":0.482,"y":0.846},{"x":0.479,"y":0.84},{"x":0.485,"y":0.834},{"x":0.482,"y":0.828},{"x":0.479,"y":0.822},{"x":0.485,"y":0.816},{"x":0.482,"y":0.81},{"x":0.479,"y":0.804},{"x":0.485,"y":0.798},{"x":0.482,"y":0.788},
{"x":0.524,"y":0.837},{"x":0.521,"y":0.831},{"x":0.527,"y":0.825},{"x":0.524,"y":0.819},{"x":0.521,"y":0.813},{"x":0.527,"y":0.807},{"x":0.524,"y":0.801},{"x":0.521,"y":0.795},{"x":0.527,"y":0.789},{"x":0.524,"y":0.783},{"x":0.521,"y":0.773},
{"x":0.566,"y":0.829},{"x":0.563,"y":0.823},{"x":0.569,"y":0.817},{"x":0.566,"y":0.811},{"x":0.563,"y":0.805},{"x":0.569,"y":0.799},{"x":0.566,"y":0.793},{"x":0.563,"y":0.787},{"x":0.569,"y":0.781},{"x":0.566,"y":0.775},{"x":0.563,"y":0.769},
{"x":0.607,"y":0.816},{"x":0.604,"y":0.81},{"x":0.61,"y":0.804},{"x":0.607,"y":0.798},{"x":0.604,"y":0.792},{"x":0.61,"y":0.786},{"x":0.607,"y":0.78},{"x":0.604,"y":0.775},{"x":0.607,"y":0.76},
{"x":0.651,"y":0.81},{"x":0.648,"y":0.804},{"x":0.654,"y":0.798},{"x":0.651,"y":0.792},{"x":0.648,"y":0.786},{"x":0.654,"y":0.78},{"x":0.651,"y":0.774},{"x":0.648,"y":0.768},{"x":0.654,"y":0.762},{"x":0.651,"y":0.756},{"x":0.651,"y":0.743},{"x":0.651,"y":0.732},
{"x":0.692,"y":0.809},{"x":0.689,"y":0.799},{"x":0.695,"y":0.793},{"x":0.692,"y":0.787},{"x":0.689,"y":0.781},{"x":0.695,"y":0.775},{"x":0.692,"y":0.769},{"x":0.689,"y":0.763},{"x":0.695,"y":0.757},{"x":0.692,"y":0.751},{"x":0.689,"y":0.745},{"x":0.695,"y":0.739},{"x":0.692,"y":0.733},{"x":0.689,"y":0.727},{"x":0.692,"y":0.719}],
"f1":[{"x":0.323,"y":0.749},{"x":0.35,"y":0.757},{"x":0.375,"y":0.762},{"x":0.4,"y":0.764},{"x":0.425,"y":0.763},{"x":0.45,"y":0.76},{"x":0.482,"y":0.755},{"x":0.524,"y":0.743},{"x":0.566,"y":0.731},{"x":0.607,"y":0.721},{"x":0.651,"y":0.71},{"x":0.694,"y":0.695}],
"f2":[{"x":0.323,"y":0.75},{"x":0.34,"y":0.76},{"x":0.36,"y":0.768},{"x":0.38,"y":0.773},{"x":0.4,"y":0.776},{"x":0.42,"y":0.776},{"x":0.44,"y":0.774},{"x":0.46,"y":0.77},{"x":0.482,"y":0.765},{"x":0.523,"y":0.755},{"x":0.567,"y":0.743},{"x":0.608,"y":0.727},{"x":0.651,"y":0.707},{"x":0.694,"y":0.685}],
"f3":[{"x":0.323,"y":0.794},{"x":0.36,"y":0.794},{"x":0.4,"y":0.793},{"x":0.44,"y":0.791},{"x":0.482,"y":0.785},{"x":0.523,"y":0.776},{"x":0.565,"y":0.761},{"x":0.607,"y":0.743},{"x":0.65,"y":0.722},{"x":0.693,"y":0.7}],
"f4":[{"x":0.323,"y":0.806},{"x":0.36,"y":0.799},{"x":0.4,"y":0.793},{"x":0.44,"y":0.788},{"x":0.483,"y":0.782},{"x":0.525,"y":0.776},{"x":0.567,"y":0.767},{"x":0.609,"y":0.751},{"x":0.65,"y":0.735},{"x":0.694,"y":0.717}],
"f5":[{"x":0.323,"y":0.839},{"x":0.35,"y":0.831},{"x":0.4,"y":0.816},{"x":0.441,"y":0.805},{"x":0.482,"y":0.795},{"x":0.524,"y":0.784},{"x":0.566,"y":0.772},{"x":0.607,"y":0.757},{"x":0.651,"y":0.736},{"x":0.694,"y":0.712}],
"f6":[{"x":0.323,"y":0.841},{"x":0.35,"y":0.832},{"x":0.396,"y":0.818},{"x":0.44,"y":0.807},{"x":0.482,"y":0.798},{"x":0.523,"y":0.789},{"x":0.567,"y":0.777},{"x":0.608,"y":0.761},{"x":0.651,"y":0.739},{"x":0.694,"y":0.714}],
"f7":[{"x":0.323,"y":0.818},{"x":0.35,"y":0.812},{"x":0.396,"y":0.804},{"x":0.44,"y":0.797},{"x":0.482,"y":0.789},{"x":0.523,"y":0.779},{"x":0.565,"y":0.768},{"x":0.607,"y":0.754},{"x":0.65,"y":0.74},{"x":0.694,"y":0.725}],
"f8":[{"x":0.323,"y":0.839},{"x":0.35,"y":0.832},{"x":0.396,"y":0.824},{"x":0.44,"y":0.815},{"x":0.483,"y":0.806},{"x":0.525,"y":0.798},{"x":0.567,"y":0.791},{"x":0.609,"y":0.783},{"x":0.65,"y":0.773},{"x":0.694,"y":0.76}],
"f9":[{"x":0.323,"y":0.842},{"x":0.35,"y":0.838},{"x":0.396,"y":0.831},{"x":0.441,"y":0.824},{"x":0.482,"y":0.816},{"x":0.524,"y":0.808},{"x":0.566,"y":0.799},{"x":0.607,"y":0.789},{"x":0.651,"y":0.778},{"x":0.694,"y":0.765}],
"f10":[{"x":0.323,"y":0.838},{"x":0.35,"y":0.834},{"x":0.396,"y":0.829},{"x":0.44,"y":0.824},{"x":0.482,"y":0.817},{"x":0.523,"y":0.809},{"x":0.567,"y":0.801},{"x":0.608,"y":0.791},{"x":0.651,"y":0.779},{"x":0.694,"y":0.765}],
"f11":[{"x":0.323,"y":0.842},{"x":0.35,"y":0.838},{"x":0.396,"y":0.831},{"x":0.44,"y":0.824},{"x":0.482,"y":0.816},{"x":0.523,"y":0.809},{"x":0.565,"y":0.801},{"x":0.607,"y":0.792},{"x":0.65,"y":0.781},{"x":0.694,"y":0.767}],
"f12":[{"x":0.323,"y":0.842},{"x":0.35,"y":0.838},{"x":0.396,"y":0.831},{"x":0.44,"y":0.824},{"x":0.483,"y":0.816},{"x":0.525,"y":0.809},{"x":0.567,"y":0.801},{"x":0.609,"y":0.793},{"x":0.65,"y":0.782},{"x":0.694,"y":0.767}]
},
"spacing":7.8,
"hconcat":[
{"width":26,"height":1172,"view":{"stroke":null},"data":{"values":[{"t":"MCC"}]},"mark":{"type":"text","angle":270,"fontSize":24.5,"color":"#000000"},"encoding":{"text":{"field":"t","type":"nominal"}}},
{"title":{"text":"Observed missingness percentage","orient":"bottom","anchor":"middle","frame":"bounds","dx":14,"fontSize":24.5,"fontWeight":"normal","color":"#000000","font":"Liberation Sans","offset":2},
"spacing":10.4,
"vconcat":[
{"spacing":11.7,"hconcat":[
{"spacing":0,"vconcat":[{"width":234,"height":37,"view":{"fill":"#D9D9D9"},"data":{"values":[{"t":"MICE Regr."}]},"mark":{"type":"text","fontSize":19.6,"color":"#1A1A1A"},"encoding":{"text":{"field":"t","type":"nominal"},"y":{"field":"t","type":"nominal","axis":{"labels":false,"ticks":false,"domain":false,"grid":false,"title":null,"minExtent":38,"maxExtent":38}}}},
{"width":234,"height":346,"encoding":{"x":{"field":"x","type":"quantitative","scale":{"domain":[0.3026,0.7117],"nice":false,"zero":false},"axis":{"values":[0.35,0.4,0.45,0.5,0.55,0.6,0.65,0.7],"title":null,"labels":false,"ticks":false,"gridWidth":{"condition":{"test":"round(datum.value*100)%10!=0","value":0.8},"value":1.6}}},"y":{"field":"y","type":"quantitative","scale":{"domain":[0.4835,0.872],"nice":false,"zero":false},"axis":{"values":[0.5,0.55,0.6,0.65,0.7,0.75,0.8,0.85],"title":null,"minExtent":38,"labelExpr":"round(datum.value*100)%10!=0 ? '' : format(datum.value,'.1f')","tickOpacity":{"condition":{"test":"round(datum.value*100)%10!=0","value":0},"value":1},"gridWidth":{"condition":{"test":"round(datum.value*100)%10!=0","value":0.8},"value":1.6}}}},
"layer":[{"data":{"name":"p1"},"mark":{"type":"circle","size":70,"color":"#000000","opacity":0.45}},{"data":{"name":"f1"},"mark":{"type":"line","color":"#FF0000","strokeWidth":4,"interpolate":"monotone"},"encoding":{}}]}]},
{"spacing":0,"vconcat":[{"width":234,"height":37,"view":{"fill":"#D9D9D9"},"data":{"values":[{"t":"MICE Bayes r."}]},"mark":{"type":"text","fontSize":19.6,"color":"#1A1A1A"},"encoding":{"text":{"field":"t","type":"nominal"}}},
{"width":234,"height":346,"encoding":{"x":{"field":"x","type":"quantitative","scale":{"domain":[0.3026,0.7117],"nice":false,"zero":false},"axis":{"values":[0.35,0.4,0.45,0.5,0.55,0.6,0.65,0.7],"title":null,"labels":false,"ticks":false,"gridWidth":{"condition":{"test":"round(datum.value*100)%10!=0","value":0.8},"value":1.6}}},"y":{"field":"y","type":"quantitative","scale":{"domain":[0.4835,0.872],"nice":false,"zero":false},"axis":{"values":[0.5,0.55,0.6,0.65,0.7,0.75,0.8,0.85],"title":null,"labels":false,"ticks":false,"gridWidth":{"condition":{"test":"round(datum.value*100)%10!=0","value":0.8},"value":1.6}}}},
"layer":[{"data":{"name":"p2"},"mark":{"type":"circle","size":70,"color":"#000000","opacity":0.45}},{"data":{"name":"f2"},"mark":{"type":"line","color":"#FF0000","strokeWidth":4,"interpolate":"monotone"},"encoding":{}}]}]},
{"spacing":0,"vconcat":[{"width":234,"height":37,"view":{"fill":"#D9D9D9"},"data":{"values":[{"t":"BPCA"}]},"mark":{"type":"text","fontSize":19.6,"color":"#1A1A1A"},"encoding":{"text":{"field":"t","type":"nominal"}}},
{"width":234,"height":346,"encoding":{"x":{"field":"x","type":"quantitative","scale":{"domain":[0.3026,0.7117],"nice":false,"zero":false},"axis":{"values":[0.35,0.4,0.45,0.5,0.55,0.6,0.65,0.7],"title":null,"labels":false,"ticks":false,"gridWidth":{"condition":{"test":"round(datum.value*100)%10!=0","value":0.8},"value":1.6}}},"y":{"field":"y","type":"quantitative","scale":{"domain":[0.4835,0.872],"nice":false,"zero":false},"axis":{"values":[0.5,0.55,0.6,0.65,0.7,0.75,0.8,0.85],"title":null,"labels":false,"ticks":false,"gridWidth":{"condition":{"test":"round(datum.value*100)%10!=0","value":0.8},"value":1.6}}}},
"layer":[{"data":{"name":"p3"},"mark":{"type":"circle","size":70,"color":"#000000","opacity":0.45}},{"data":{"name":"f3"},"mark":{"type":"line","color":"#FF0000","strokeWidth":4,"interpolate":"monotone"},"encoding":{}}]}]},
{"spacing":0,"vconcat":[{"width":234,"height":37,"view":{"fill":"#D9D9D9"},"data":{"values":[{"t":"MICE PMM"}]},"mark":{"type":"text","fontSize":19.6,"color":"#1A1A1A"},"encoding":{"text":{"field":"t","type":"nominal"}}},
{"width":234,"height":346,"encoding":{"x":{"field":"x","type":"quantitative","scale":{"domain":[0.3026,0.7117],"nice":false,"zero":false},"axis":{"values":[0.35,0.4,0.45,0.5,0.55,0.6,0.65,0.7],"title":null,"labels":false,"ticks":false,"gridWidth":{"condition":{"test":"round(datum.value*100)%10!=0","value":0.8},"value":1.6}}},"y":{"field":"y","type":"quantitative","scale":{"domain":[0.4835,0.872],"nice":false,"zero":false},"axis":{"values":[0.5,0.55,0.6,0.65,0.7,0.75,0.8,0.85],"title":null,"labels":false,"ticks":false,"gridWidth":{"condition":{"test":"round(datum.value*100)%10!=0","value":0.8},"value":1.6}}}},
"layer":[{"data":{"name":"p4"},"mark":{"type":"circle","size":70,"color":"#000000","opacity":0.45}},{"data":{"name":"f4"},"mark":{"type":"line","color":"#FF0000","strokeWidth":4,"interpolate":"monotone"},"encoding":{}}]}]}
]},
{"spacing":11.7,"hconcat":[
{"spacing":0,"vconcat":[{"width":234,"height":37,"view":{"fill":"#D9D9D9"},"data":{"values":[{"t":"Maximum"}]},"mark":{"type":"text","fontSize":19.6,"color":"#1A1A1A"},"encoding":{"text":{"field":"t","type":"nominal"},"y":{"field":"t","type":"nominal","axis":{"labels":false,"ticks":false,"domain":false,"grid":false,"title":null,"minExtent":38,"maxExtent":38}}}},
{"width":234,"height":346,"encoding":{"x":{"field":"x","type":"quantitative","scale":{"domain":[0.3026,0.7117],"nice":false,"zero":false},"axis":{"values":[0.35,0.4,0.45,0.5,0.55,0.6,0.65,0.7],"title":null,"labels":false,"ticks":false,"gridWidth":{"condition":{"test":"round(datum.value*100)%10!=0","value":0.8},"value":1.6}}},"y":{"field":"y","type":"quantitative","scale":{"domain":[0.4835,0.872],"nice":false,"zero":false},"axis":{"values":[0.5,0.55,0.6,0.65,0.7,0.75,0.8,0.85],"title":null,"minExtent":38,"labelExpr":"round(datum.value*100)%10!=0 ? '' : format(datum.value,'.1f')","tickOpacity":{"condition":{"test":"round(datum.value*100)%10!=0","value":0},"value":1},"gridWidth":{"condition":{"test":"round(datum.value*100)%10!=0","value":0.8},"value":1.6}}}},
"layer":[{"data":{"name":"p5"},"mark":{"type":"circle","size":70,"color":"#000000","opacity":0.45}},{"data":{"name":"f5"},"mark":{"type":"line","color":"#FF0000","strokeWidth":4,"interpolate":"monotone"},"encoding":{}}]}]},
{"spacing":0,"vconcat":[{"width":234,"height":37,"view":{"fill":"#D9D9D9"},"data":{"values":[{"t":"Outlier"}]},"mark":{"type":"text","fontSize":19.6,"color":"#1A1A1A"},"encoding":{"text":{"field":"t","type":"nominal"}}},
{"width":234,"height":346,"encoding":{"x":{"field":"x","type":"quantitative","scale":{"domain":[0.3026,0.7117],"nice":false,"zero":false},"axis":{"values":[0.35,0.4,0.45,0.5,0.55,0.6,0.65,0.7],"title":null,"labels":false,"ticks":false,"gridWidth":{"condition":{"test":"round(datum.value*100)%10!=0","value":0.8},"value":1.6}}},"y":{"field":"y","type":"quantitative","scale":{"domain":[0.4835,0.872],"nice":false,"zero":false},"axis":{"values":[0.5,0.55,0.6,0.65,0.7,0.75,0.8,0.85],"title":null,"labels":false,"ticks":false,"gridWidth":{"condition":{"test":"round(datum.value*100)%10!=0","value":0.8},"value":1.6}}}},
"layer":[{"data":{"name":"p6"},"mark":{"type":"circle","size":70,"color":"#000000","opacity":0.45}},{"data":{"name":"f6"},"mark":{"type":"line","color":"#FF0000","strokeWidth":4,"interpolate":"monotone"},"encoding":{}}]}]},
{"spacing":0,"vconcat":[{"width":234,"height":37,"view":{"fill":"#D9D9D9"},"data":{"values":[{"t":"MICE RF"}]},"mark":{"type":"text","fontSize":19.6,"color":"#1A1A1A"},"encoding":{"text":{"field":"t","type":"nominal"}}},
{"width":234,"height":346,"encoding":{"x":{"field":"x","type":"quantitative","scale":{"domain":[0.3026,0.7117],"nice":false,"zero":false},"axis":{"values":[0.35,0.4,0.45,0.5,0.55,0.6,0.65,0.7],"title":null,"labels":false,"ticks":false,"gridWidth":{"condition":{"test":"round(datum.value*100)%10!=0","value":0.8},"value":1.6}}},"y":{"field":"y","type":"quantitative","scale":{"domain":[0.4835,0.872],"nice":false,"zero":false},"axis":{"values":[0.5,0.55,0.6,0.65,0.7,0.75,0.8,0.85],"title":null,"labels":false,"ticks":false,"gridWidth":{"condition":{"test":"round(datum.value*100)%10!=0","value":0.8},"value":1.6}}}},
"layer":[{"data":{"name":"p7"},"mark":{"type":"circle","size":70,"color":"#000000","opacity":0.45}},{"data":{"name":"f7"},"mark":{"type":"line","color":"#FF0000","strokeWidth":4,"interpolate":"monotone"},"encoding":{}}]}]},
{"spacing":0,"vconcat":[{"width":234,"height":37,"view":{"fill":"#D9D9D9"},"data":{"values":[{"t":"Mean"}]},"mark":{"type":"text","fontSize":19.6,"color":"#1A1A1A"},"encoding":{"text":{"field":"t","type":"nominal"}}},
{"width":234,"height":346,"encoding":{"x":{"field":"x","type":"quantitative","scale":{"domain":[0.3026,0.7117],"nice":false,"zero":false},"axis":{"values":[0.35,0.4,0.45,0.5,0.55,0.6,0.65,0.7],"title":null,"labels":false,"ticks":false,"gridWidth":{"condition":{"test":"round(datum.value*100)%10!=0","value":0.8},"value":1.6}}},"y":{"field":"y","type":"quantitative","scale":{"domain":[0.4835,0.872],"nice":false,"zero":false},"axis":{"values":[0.5,0.55,0.6,0.65,0.7,0.75,0.8,0.85],"title":null,"labels":false,"ticks":false,"gridWidth":{"condition":{"test":"round(datum.value*100)%10!=0","value":0.8},"value":1.6}}}},
"layer":[{"data":{"name":"p8"},"mark":{"type":"circle","size":70,"color":"#000000","opacity":0.45}},{"data":{"name":"f8"},"mark":{"type":"line","color":"#FF0000","strokeWidth":4,"interpolate":"monotone"},"encoding":{}}]}]}
]},
{"spacing":4.3,"hconcat":[
{"spacing":0,"vconcat":[{"width":234,"height":37,"view":{"fill":"#D9D9D9"},"data":{"values":[{"t":"Missingness ind."}]},"mark":{"type":"text","fontSize":19.6,"color":"#1A1A1A"},"encoding":{"text":{"field":"t","type":"nominal"},"y":{"field":"t","type":"nominal","axis":{"labels":false,"ticks":false,"domain":false,"grid":false,"title":null,"minExtent":38,"maxExtent":38}}}},
{"width":234,"height":346,"encoding":{"x":{"field":"x","type":"quantitative","scale":{"domain":[0.3026,0.7117],"nice":false,"zero":false},"axis":{"values":[0.35,0.4,0.45,0.5,0.55,0.6,0.65,0.7],"title":null,"labelPadding":2,"labelExpr":"round(datum.value*100)%10!=0 ? '' : format(datum.value,'.1f')","tickOpacity":{"condition":{"test":"round(datum.value*100)%10!=0","value":0},"value":1},"gridWidth":{"condition":{"test":"round(datum.value*100)%10!=0","value":0.8},"value":1.6}}},"y":{"field":"y","type":"quantitative","scale":{"domain":[0.4835,0.872],"nice":false,"zero":false},"axis":{"values":[0.5,0.55,0.6,0.65,0.7,0.75,0.8,0.85],"title":null,"minExtent":38,"labelExpr":"round(datum.value*100)%10!=0 ? '' : format(datum.value,'.1f')","tickOpacity":{"condition":{"test":"round(datum.value*100)%10!=0","value":0},"value":1},"gridWidth":{"condition":{"test":"round(datum.value*100)%10!=0","value":0.8},"value":1.6}}}},
"layer":[{"data":{"name":"p9"},"mark":{"type":"circle","size":70,"color":"#000000","opacity":0.45}},{"data":{"name":"f9"},"mark":{"type":"line","color":"#FF0000","strokeWidth":4,"interpolate":"monotone"},"encoding":{}}]}]},
{"spacing":0,"vconcat":[{"width":234,"height":37,"view":{"fill":"#D9D9D9"},"data":{"values":[{"t":"Median"}]},"mark":{"type":"text","fontSize":19.6,"color":"#1A1A1A"},"encoding":{"text":{"field":"t","type":"nominal"}}},
{"width":234,"height":346,"encoding":{"x":{"field":"x","type":"quantitative","scale":{"domain":[0.3026,0.7117],"nice":false,"zero":false},"axis":{"values":[0.35,0.4,0.45,0.5,0.55,0.6,0.65,0.7],"title":null,"labelPadding":2,"labelExpr":"round(datum.value*100)%10!=0 ? '' : format(datum.value,'.1f')","tickOpacity":{"condition":{"test":"round(datum.value*100)%10!=0","value":0},"value":1},"gridWidth":{"condition":{"test":"round(datum.value*100)%10!=0","value":0.8},"value":1.6}}},"y":{"field":"y","type":"quantitative","scale":{"domain":[0.4835,0.872],"nice":false,"zero":false},"axis":{"values":[0.5,0.55,0.6,0.65,0.7,0.75,0.8,0.85],"title":null,"labels":false,"ticks":false,"gridWidth":{"condition":{"test":"round(datum.value*100)%10!=0","value":0.8},"value":1.6}}}},
"layer":[{"data":{"name":"p10"},"mark":{"type":"circle","size":70,"color":"#000000","opacity":0.45}},{"data":{"name":"f10"},"mark":{"type":"line","color":"#FF0000","strokeWidth":4,"interpolate":"monotone"},"encoding":{}}]}]},
{"spacing":0,"vconcat":[{"width":234,"height":37,"view":{"fill":"#D9D9D9"},"data":{"values":[{"t":"Zero"}]},"mark":{"type":"text","fontSize":19.6,"color":"#1A1A1A"},"encoding":{"text":{"field":"t","type":"nominal"}}},
{"width":234,"height":346,"encoding":{"x":{"field":"x","type":"quantitative","scale":{"domain":[0.3026,0.7117],"nice":false,"zero":false},"axis":{"values":[0.35,0.4,0.45,0.5,0.55,0.6,0.65,0.7],"title":null,"labelPadding":2,"labelExpr":"round(datum.value*100)%10!=0 ? '' : format(datum.value,'.1f')","tickOpacity":{"condition":{"test":"round(datum.value*100)%10!=0","value":0},"value":1},"gridWidth":{"condition":{"test":"round(datum.value*100)%10!=0","value":0.8},"value":1.6}}},"y":{"field":"y","type":"quantitative","scale":{"domain":[0.4835,0.872],"nice":false,"zero":false},"axis":{"values":[0.5,0.55,0.6,0.65,0.7,0.75,0.8,0.85],"title":null,"labels":false,"ticks":false,"gridWidth":{"condition":{"test":"round(datum.value*100)%10!=0","value":0.8},"value":1.6}}}},
"layer":[{"data":{"name":"p11"},"mark":{"type":"circle","size":70,"color":"#000000","opacity":0.45}},{"data":{"name":"f11"},"mark":{"type":"line","color":"#FF0000","strokeWidth":4,"interpolate":"monotone"},"encoding":{}}]}]},
{"spacing":0,"vconcat":[{"width":234,"height":37,"view":{"fill":"#D9D9D9"},"data":{"values":[{"t":"Minimum"}]},"mark":{"type":"text","fontSize":19.6,"color":"#1A1A1A"},"encoding":{"text":{"field":"t","type":"nominal"}}},
{"width":234,"height":346,"encoding":{"x":{"field":"x","type":"quantitative","scale":{"domain":[0.3026,0.7117],"nice":false,"zero":false},"axis":{"values":[0.35,0.4,0.45,0.5,0.55,0.6,0.65,0.7],"title":null,"labelPadding":2,"labelExpr":"round(datum.value*100)%10!=0 ? '' : format(datum.value,'.1f')","tickOpacity":{"condition":{"test":"round(datum.value*100)%10!=0","value":0},"value":1},"gridWidth":{"condition":{"test":"round(datum.value*100)%10!=0","value":0.8},"value":1.6}}},"y":{"field":"y","type":"quantitative","scale":{"domain":[0.4835,0.872],"nice":false,"zero":false},"axis":{"values":[0.5,0.55,0.6,0.65,0.7,0.75,0.8,0.85],"title":null,"labels":false,"ticks":false,"gridWidth":{"condition":{"test":"round(datum.value*100)%10!=0","value":0.8},"value":1.6}}}},
"layer":[{"data":{"name":"p12"},"mark":{"type":"circle","size":70,"color":"#000000","opacity":0.45}},{"data":{"name":"f12"},"mark":{"type":"line","color":"#FF0000","strokeWidth":4,"interpolate":"monotone"},"encoding":{}}]}]}
]}
]}
]
}
